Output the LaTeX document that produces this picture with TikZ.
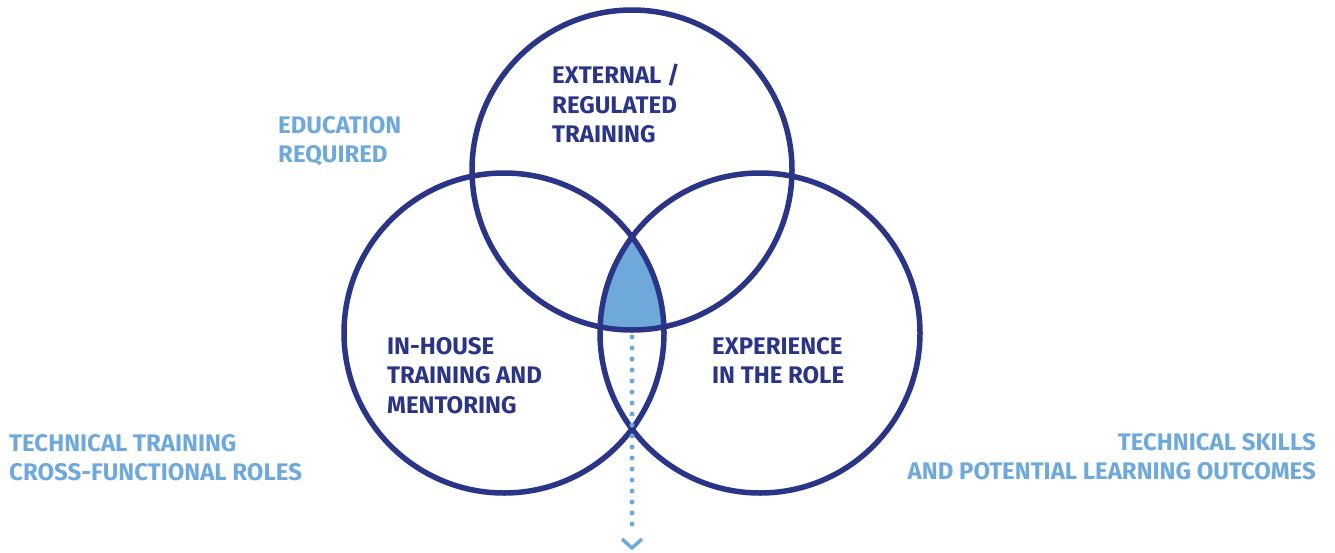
\documentclass[tikz,border=0pt]{standalone}
\usepackage{fontspec}
\setmainfont{Fira Sans}
\definecolor{navy}{RGB}{42,53,135}
\definecolor{sky}{RGB}{111,169,220}
\begin{document}
\begin{tikzpicture}[x=1pt,y=-1pt,
  ring/.style={circle,draw=navy,line width=5.5pt,inner sep=0pt,minimum size=320pt},
  lbl/.style={inner sep=0pt,font=\bfseries\fontsize{24}{29.5}\selectfont},
  darklbl/.style={lbl,text=navy,align=left,anchor=north west},
  lightlbl/.style={lbl,text=sky},
  dots/.style={draw=sky,line width=5pt,line cap=round,dash pattern=on 0pt off 11pt},
  chev/.style={draw=sky,line width=3.5pt}]
\useasboundingbox (0,0) rectangle (1335,552);
% shared region
\begin{scope}
  \clip (632,170) circle (160);
  \clip (504,333) circle (160);
  \fill[sky] (760,333) circle (160);
\end{scope}
\node[ring] (top) at (632,170) {};
\node[ring] (left) at (504,333) {};
\node[ring] (right) at (760,333) {};
% dotted arrow
\coordinate (arrS) at (632,337);
\coordinate (arrE) at (632,535);
\draw[dots] (arrS) -- (arrE);
\draw[chev] ([xshift=-10pt,yshift=-4pt]arrE) -- ([yshift=-13pt]arrE) -- ([xshift=10pt,yshift=-4pt]arrE);
% labels
\node[darklbl] (ext) at (552,64) {EXTERNAL /\\REGULATED\\TRAINING};
\node[darklbl] (inh) at (387,337) {IN-HOUSE\\TRAINING AND\\MENTORING};
\node[darklbl] (exp) at (712,337) {EXPERIENCE\\IN THE ROLE};
\node[lightlbl,align=left,anchor=north west] (edu) at (278,116) {EDUCATION\\REQUIRED};
\node[lightlbl,align=left,anchor=north west] (tech) at (9,434) {TECHNICAL TRAINING\\CROSS-FUNCTIONAL ROLES};
\node[lightlbl,align=right,anchor=north east] (skills) at (1316,433) {TECHNICAL SKILLS\\AND POTENTIAL LEARNING OUTCOMES};
\end{tikzpicture}
\end{document}
